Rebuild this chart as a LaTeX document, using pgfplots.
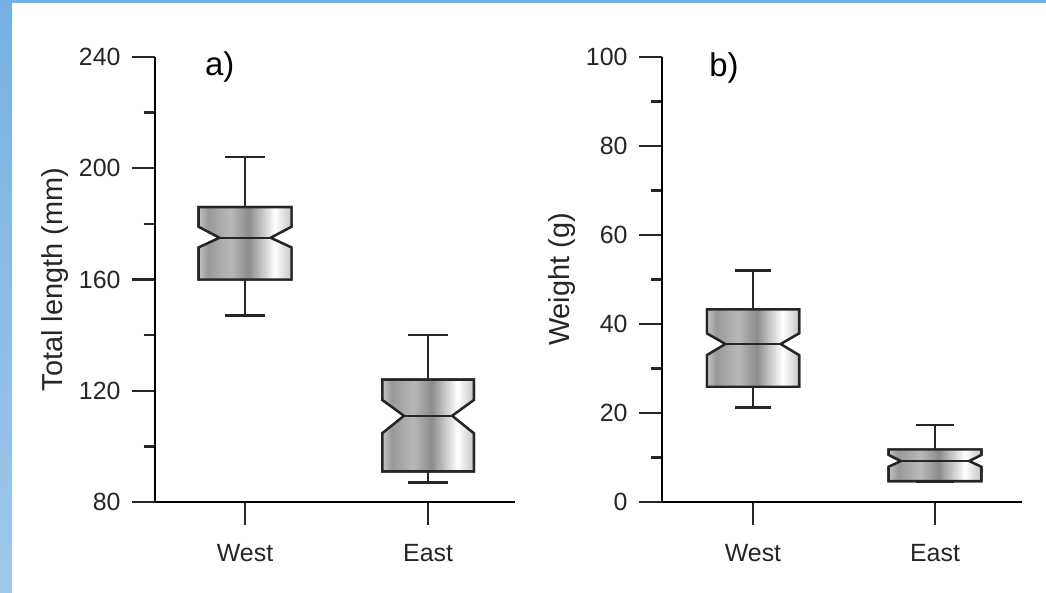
\documentclass[border=0pt]{standalone}
\usepackage{pgfplots}
\pgfplotsset{compat=1.18}
\usepackage{fontspec}
\setmainfont{Liberation Sans}
\usetikzlibrary{patterns}
\definecolor{bordtop}{RGB}{118,176,226}
\definecolor{bordbot}{RGB}{160,200,234}
\pgfdeclarehorizontalshading{stripes}{100bp}{color(0bp)=(black!50); color(8bp)=(black!30); color(18bp)=(white); color(30bp)=(black!40); color(42bp)=(black!28); color(52bp)=(black!45); color(66bp)=(white); color(78bp)=(black!30); color(90bp)=(black!45); color(100bp)=(black!55)}
\pgfplotsset{
 panel/.style={
  scale only axis, width=360bp, height=445bp,
  anchor=south west,
  axis lines=left, axis line style={-, line width=2.3bp},
  tick align=outside, major tick length=23bp, minor tick length=11bp,
  every tick/.style={line width=2.3bp, black!85},
  tick label style={font=\fontsize{25}{30}\selectfont, black!85},
  yticklabel style={xshift=-8bp},
  xticklabel style={yshift=-16bp},
  xtick={1,2}, xticklabels={West,East},
  minor y tick num=1, minor x tick num=0,
  every axis y label/.style={at={(axis description cs:0,0.5)}, xshift=-100bp, rotate=90, anchor=center, font=\fontsize{29}{34}\selectfont, black!85},
  /pgf/number format/assume math mode=true,
  clip=false,
 },
 box/.style={draw=black!85, line width=2.4bp, shade, shading=stripes, postaction={pattern=vertical lines, pattern color=black!35}},
 wh/.style={black!85, line width=2.4bp, mark=none},
}
\begin{document}
\begin{tikzpicture}
\fill[white] (0,0) rectangle (1046bp,593bp);
\shade[top color=bordtop, bottom color=bordbot] (0,0) rectangle (12bp,593bp);
\fill[bordtop] (0,590bp) rectangle (1046bp,593bp);

% Panel a
\begin{axis}[panel, at={(155bp,91bp)},
  xmin=0.508, xmax=2.475, ymin=80, ymax=240, ytick={80,120,160,200,240},
  ylabel={Total length (mm)}]
% West
\addplot[box] coordinates {(0.746,160) (1.254,160) (1.254,171.5) (1.139,175) (1.254,179) (1.254,186) (0.746,186) (0.746,179) (0.861,175) (0.746,171.5)} -- cycle;
\addplot[wh] coordinates {(0.861,175) (1.139,175)};
\addplot[wh] coordinates {(1,186) (1,204)};
\addplot[wh] coordinates {(0.893,204) (1.107,204)};
\addplot[wh] coordinates {(1,160) (1,147)};
\addplot[wh] coordinates {(0.893,147) (1.107,147)};
% East
\addplot[box] coordinates {(1.75,91) (2.25,91) (2.25,104.7) (2.131,111) (2.25,116.7) (2.25,124) (1.75,124) (1.75,116.7) (1.869,111) (1.75,104.7)} -- cycle;
\addplot[wh] coordinates {(1.869,111) (2.131,111)};
\addplot[wh] coordinates {(2,124) (2,140)};
\addplot[wh] coordinates {(1.893,140) (2.107,140)};
\addplot[wh] coordinates {(2,91) (2,87)};
\addplot[wh] coordinates {(1.893,87) (2.107,87)};
\node[font=\fontsize{33}{40}\selectfont] at (rel axis cs:0.18,0.978) {a)};
\end{axis}

% Panel b
\begin{axis}[panel, at={(662bp,91bp)},
  xmin=0.5, xmax=2.478, ymin=0, ymax=100, ytick={0,20,40,60,80,100},
  ylabel={Weight (g)}]
% West
\addplot[box] coordinates {(0.747,25.9) (1.253,25.9) (1.253,33) (1.151,35.5) (1.253,37.9) (1.253,43.3) (0.747,43.3) (0.747,37.9) (0.849,35.5) (0.747,33)} -- cycle;
\addplot[wh] coordinates {(0.849,35.5) (1.151,35.5)};
\addplot[wh] coordinates {(1,43.3) (1,52)};
\addplot[wh] coordinates {(0.9,52) (1.1,52)};
\addplot[wh] coordinates {(1,25.9) (1,21.2)};
\addplot[wh] coordinates {(0.9,21.2) (1.1,21.2)};
% East
\addplot[box] coordinates {(1.745,4.7) (2.255,4.7) (2.255,7.9) (2.187,9.2) (2.255,10.6) (2.255,11.8) (1.745,11.8) (1.745,10.6) (1.813,9.2) (1.745,7.9)} -- cycle;
\addplot[wh] coordinates {(1.813,9.2) (2.187,9.2)};
\addplot[wh] coordinates {(2,11.8) (2,17.3)};
\addplot[wh] coordinates {(1.896,17.3) (2.104,17.3)};
\addplot[wh] coordinates {(1.896,4.5) (2.104,4.5)};
\node[font=\fontsize{33}{40}\selectfont] at (rel axis cs:0.172,0.975) {b)};
\end{axis}
\end{tikzpicture}
\end{document}
